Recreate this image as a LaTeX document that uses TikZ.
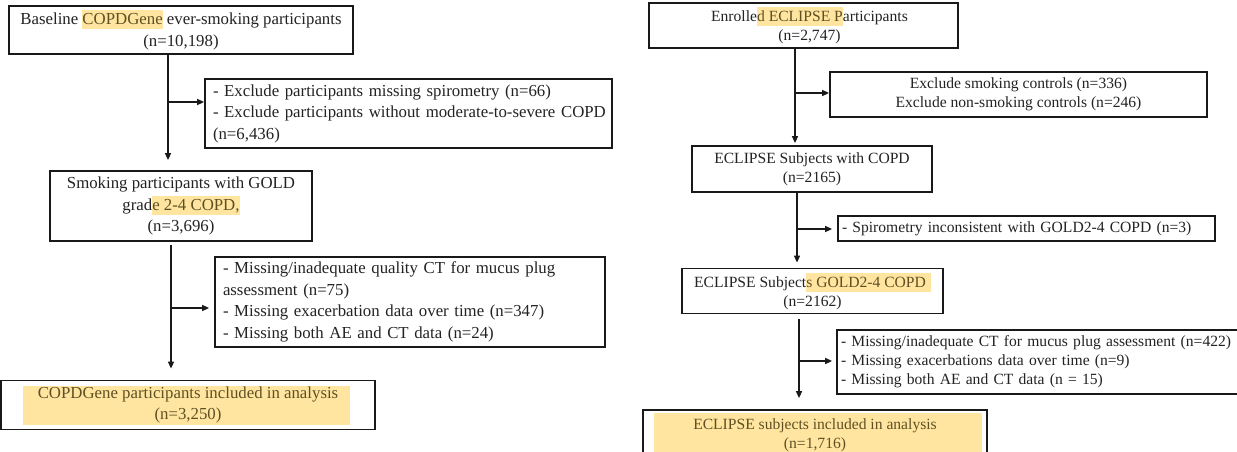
\documentclass[tikz,border=0pt]{standalone}
\usepackage{fontspec}
\setmainfont{Liberation Serif}
\usetikzlibrary{arrows.meta}
\definecolor{txt}{RGB}{35,35,35}
\definecolor{hlc}{RGB}{255,229,160}
\definecolor{hlt}{RGB}{95,80,35}
\definecolor{edge}{RGB}{25,25,25}
\newcommand\hlbox[1]{{\setlength\fboxsep{0pt}\colorbox{hlc}{\rule[-4.5pt]{0pt}{19pt}\color{hlt}#1}}}
\tikzset{
  box/.style={draw=edge, line width=1.8pt, inner sep=0pt, text=txt, align=center},
  lbox/.style={box, align=left},
  lfont/.style={font=\fontsize{16.8}{21.5}\selectfont},
  rfont/.style={font=\fontsize{15.6}{19}\selectfont},
  arr/.style={draw=edge, line width=1.5pt, -{Triangle[length=7pt,width=6pt]}},
  hlfill/.style={fill=hlc, draw=none},
}
\begin{document}
\begin{tikzpicture}[x=1pt, y=-1pt]
\useasboundingbox (0,0) rectangle (1237,451);
\fill[white] (0,0) rectangle (1237,451);
\clip (0,0) rectangle (1237,451);

% large highlight areas
\path[hlfill] (23,386) rectangle (350,425);
\path[hlfill] (654,413) rectangle (982,460);

% ---------- left column ----------
\node[box, lfont, minimum width=344pt, minimum height=48pt] (b1) at (181,30)
  {Baseline \hlbox{COPDGene} ever-smoking participants\\(n=10,198)};
\node[lbox, lfont, text width=391pt, inner xsep=8pt, minimum height=69pt] (b2) at (408.5,113.5)
  {- Exclude participants missing spirometry (n=66)\\\mbox{- Exclude participants without moderate-to-severe COPD}\\(n=6,436)};
\node[box, lfont, minimum width=262pt, minimum height=70pt] (b3) at (181,206)
  {Smoking participants with GOLD\\grad\hlbox{e 2-4 COPD,}\\(n=3,696)};
\node[lbox, lfont, text width=374pt, inner xsep=8pt, minimum height=90pt] (b4) at (410,302)
  {- Missing/inadequate quality CT for mucus plug\\assessment (n=75)\\- Missing exacerbation data over time (n=347)\\- Missing both AE and CT data (n=24)};
\node[box, lfont, text=hlt, minimum width=374pt, minimum height=49pt] (b5) at (188,405)
  {COPDGene participants included in analysis\\(n=3,250)};

% ---------- right column ----------
\node[box, rfont, minimum width=309pt, minimum height=45pt] (r1) at (803.5,25.5)
  {\hspace*{12pt}Enrolle\hlbox{d ECLIPSE P}articipants\\\hspace*{12pt}(n=2,747)};
\node[box, rfont, minimum width=377pt, minimum height=45pt] (x1) at (1018.5,94.5)
  {Exclude smoking controls (n=336)\\Exclude non-smoking controls (n=246)};
\node[box, rfont, minimum width=240pt, minimum height=46pt] (r2) at (812,169)
  {ECLIPSE Subjects with COPD\\(n=2165)};
\node[lbox, rfont, text width=369pt, inner xsep=4pt, minimum height=25pt] (x2) at (1026.5,228.5)
  {- Spirometry inconsistent with GOLD2-4 COPD (n=3)};
\node[box, rfont, minimum width=261pt, minimum height=45pt] (r3) at (812.5,291)
  {ECLIPSE Subject\hlbox{s GOLD2-4 COPD\kern5pt}\\(n=2162)};
\node[lbox, rfont, text width=405pt, inner xsep=4pt, minimum height=64pt] (x3) at (1043.5,362)
  {- Missing/inadequate CT for mucus plug assessment (n=422)\\- Missing exacerbations data over time (n=9)\\- Missing both AE and CT data (n = 15)};
\node[box, rfont, text=hlt, minimum width=344pt, minimum height=50pt] (r5) at (815,435)
  {ECLIPSE subjects included in analysis\\(n=1,716)};

% ---------- connectors ----------
\coordinate (j1) at (168,102);
\coordinate (j2) at (171,308);
\coordinate (j3) at (795,93);
\coordinate (j4) at (797,229);
\coordinate (j5) at (799,361);

\draw[arr, shorten >=10pt] (b1.south -| j1) -- (b3.north -| j1);
\draw[arr] (j1) -- (j1 -| b2.west);
\draw[arr, shorten <=3pt, shorten >=11pt] (b3.south -| j2) -- (b5.north -| j2);
\draw[arr, shorten >=5pt] (j2) -- (j2 -| b4.west);

\draw[arr, shorten >=2pt] (r1.south -| j3) -- (r2.north -| j3);
\draw[arr] (j3) -- (j3 -| x1.west);
\draw[arr, shorten >=5pt] (r2.south -| j4) -- (r3.north -| j4);
\draw[arr, shorten >=5pt] (j4) -- (j4 -| x2.west);
\draw[arr, shorten <=5pt, shorten >=11pt] (r3.south -| j5) -- (r5.north -| j5);
\draw[arr, shorten >=4pt] (j5) -- (j5 -| x3.west);
\end{tikzpicture}
\end{document}
